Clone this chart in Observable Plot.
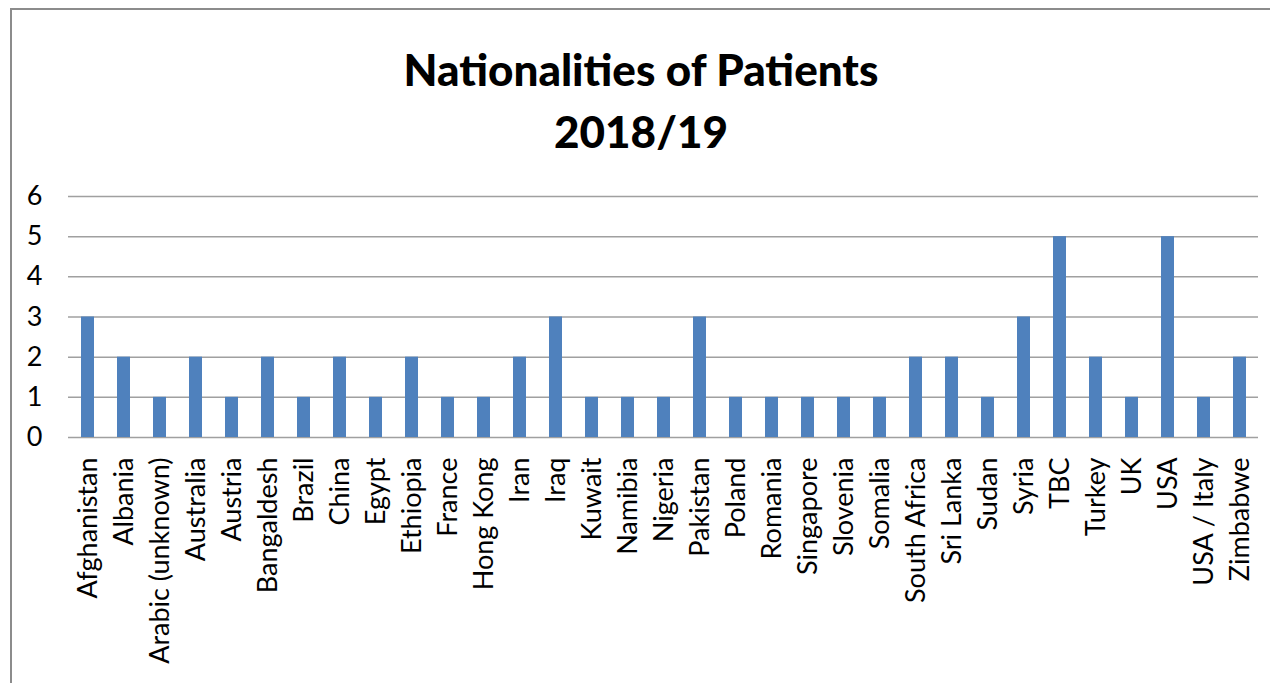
<!DOCTYPE html>
<html>
<head>
<meta charset="utf-8">
<script src="https://cdn.jsdelivr.net/npm/d3@7"></script>
<script src="https://cdn.jsdelivr.net/npm/@observablehq/plot@0.6"></script>
<style>
  html, body { margin: 0; padding: 0; background: #fff; width: 1270px; height: 683px; overflow: hidden; }
  #frame { position: absolute; left: 10px; top: 8px; width: 1300px; height: 700px;
           border-left: 2px solid #8c8c8c; border-top: 2px solid #8c8c8c; box-sizing: border-box; }
  #title { position: absolute; left: 0; width: 1282px; top: 38px; text-align: center;
           font-family: Lato, sans-serif; font-weight: 900; font-size: 44px; line-height: 62px; color: #000; }
  #chart { position: absolute; left: 0; top: 166px; }
</style>
</head>
<body>
<div id="frame"></div>
<div id="title">Nationalities of Patients<br>2018/19</div>
<div id="chart"></div>
<script>
const countries = ["Afghanistan","Albania","Arabic (unknown)","Australia","Austria","Bangaldesh","Brazil","China","Egypt","Ethiopia","France","Hong Kong","Iran","Iraq","Kuwait","Namibia","Nigeria","Pakistan","Poland","Romania","Singapore","Slovenia","Somalia","South Africa","Sri Lanka","Sudan","Syria","TBC","Turkey","UK","USA","USA / Italy","Zimbabwe"];
const patients = [3,2,1,2,1,2,1,2,1,2,1,1,2,3,1,1,1,3,1,1,1,1,1,2,2,1,3,5,2,1,5,1,2];
const yTicks = [0,1,2,3,4,5,6];

const data = countries.map((c, i) => ({country: c, value: patients[i]}));

const chart = Plot.plot({
  width: 1270,
  height: 517,
  marginTop: 30,
  marginBottom: 246,
  marginLeft: 68,
  marginRight: 12,
  style: {fontFamily: "Lato, sans-serif", fontSize: "27px", color: "#000", background: "transparent", overflow: "visible"},
  x: {domain: countries, paddingInner: 0.64, paddingOuter: 0.32, label: null},
  y: {domain: [0, 6], label: null},
  marks: [
    Plot.ruleY(yTicks, {stroke: "#a0a0a0", strokeWidth: 1.5}),
    Plot.barY(data, {x: "country", y: "value", fill: "#4f81bd"}),
    Plot.axisY(yTicks, {tickSize: 0, tickPadding: 26, line: true, stroke: "#a0a0a0", fill: "#000", label: null, fontSize: 27}),
    Plot.axisX({tickSize: 0, tickPadding: 20, tickRotate: -90, fill: "#000", label: null, fontSize: 27})
  ]
});
document.getElementById("chart").appendChild(chart);
</script>
</body>
</html>
